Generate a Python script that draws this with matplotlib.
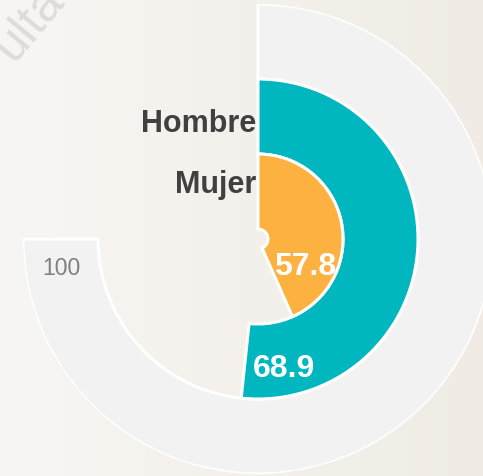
import numpy as np
import matplotlib
matplotlib.use("Agg")
import matplotlib.pyplot as plt

# data
categories = ["Hombre", "Mujer"]
values = [68.9, 57.8]
total = 100
colors = ["#00B6BF", "#FDB141"]
track_color = "#F2F2F2"

W, H = 483, 477
cx, cy = 258, 240          # centre of the rings in pixels (from top-left)
R = 235                    # outer radius in pixels
span = 1.5 * np.pi         # 100 -> 270 degrees

fig = plt.figure(figsize=(W / 100, H / 100), dpi=100)

# background gradient
bg = fig.add_axes([0, 0, 1, 1])
grad = np.linspace(0, 1, 256)[None, :]
c0 = np.array([248, 246, 243]) / 255
c1 = np.array([240, 236, 229]) / 255
img = c0[None, None, :] * (1 - grad[..., None]) + c1[None, None, :] * grad[..., None]
bg.imshow(img, aspect="auto", extent=[0, 1, 0, 1])
bg.set_axis_off()
# faint watermark, mostly outside the picture
bg.text(30 / W, 1 - 24 / H, "ulta", rotation=50, fontsize=36, color="#DCDCDC",
        ha="center", va="center", family="Liberation Sans")

ax = fig.add_axes([(cx - R) / W, (H - cy - R) / H, 2 * R / W, 2 * R / H], projection="polar")
ax.set_theta_zero_location("N")
ax.set_theta_direction(-1)
ax.set_ylim(0, R)
ax.set_axis_off()
ax.patch.set_alpha(0)

rings = [(160, 75), (85, 75), (10, 75)]  # (inner radius, width) outer to inner
edge = dict(edgecolor="white", linewidth=2.2)

# grey track for the total
ax.bar(0, rings[0][1], width=total / 100 * span, bottom=rings[0][0],
       align="edge", color=track_color, **edge)
for (bottom, height), v, c in zip(rings[1:], values, colors):
    ax.bar(0, height, width=v / 100 * span, bottom=bottom, align="edge", color=c, **edge)

font = ["Liberation Sans", "DejaVu Sans"]

# category labels to the left of 12 o'clock (baseline radii)
for name, r in zip(categories, [108, 47]):
    ax.annotate(name, xy=(0, r), xytext=(-1.5, 0),
                textcoords="offset points", ha="right", va="baseline",
                fontsize=22, fontweight="bold", color="#404040", family=font)

# value labels near the end of each bar
for v, off, r in zip(values, [0.291, 0.513], [139, 58.5]):
    ax.text(v / 100 * span - off, r, f"{v}", ha="center", va="baseline",
            fontsize=23, fontweight="bold", color="white", family=font)

ax.text(total / 100 * span - 0.176, 199.5, f"{total}", ha="center", va="baseline",
        fontsize=16.5, color="#7F7F7F", family=font)

fig.savefig("out.png", dpi=100)
